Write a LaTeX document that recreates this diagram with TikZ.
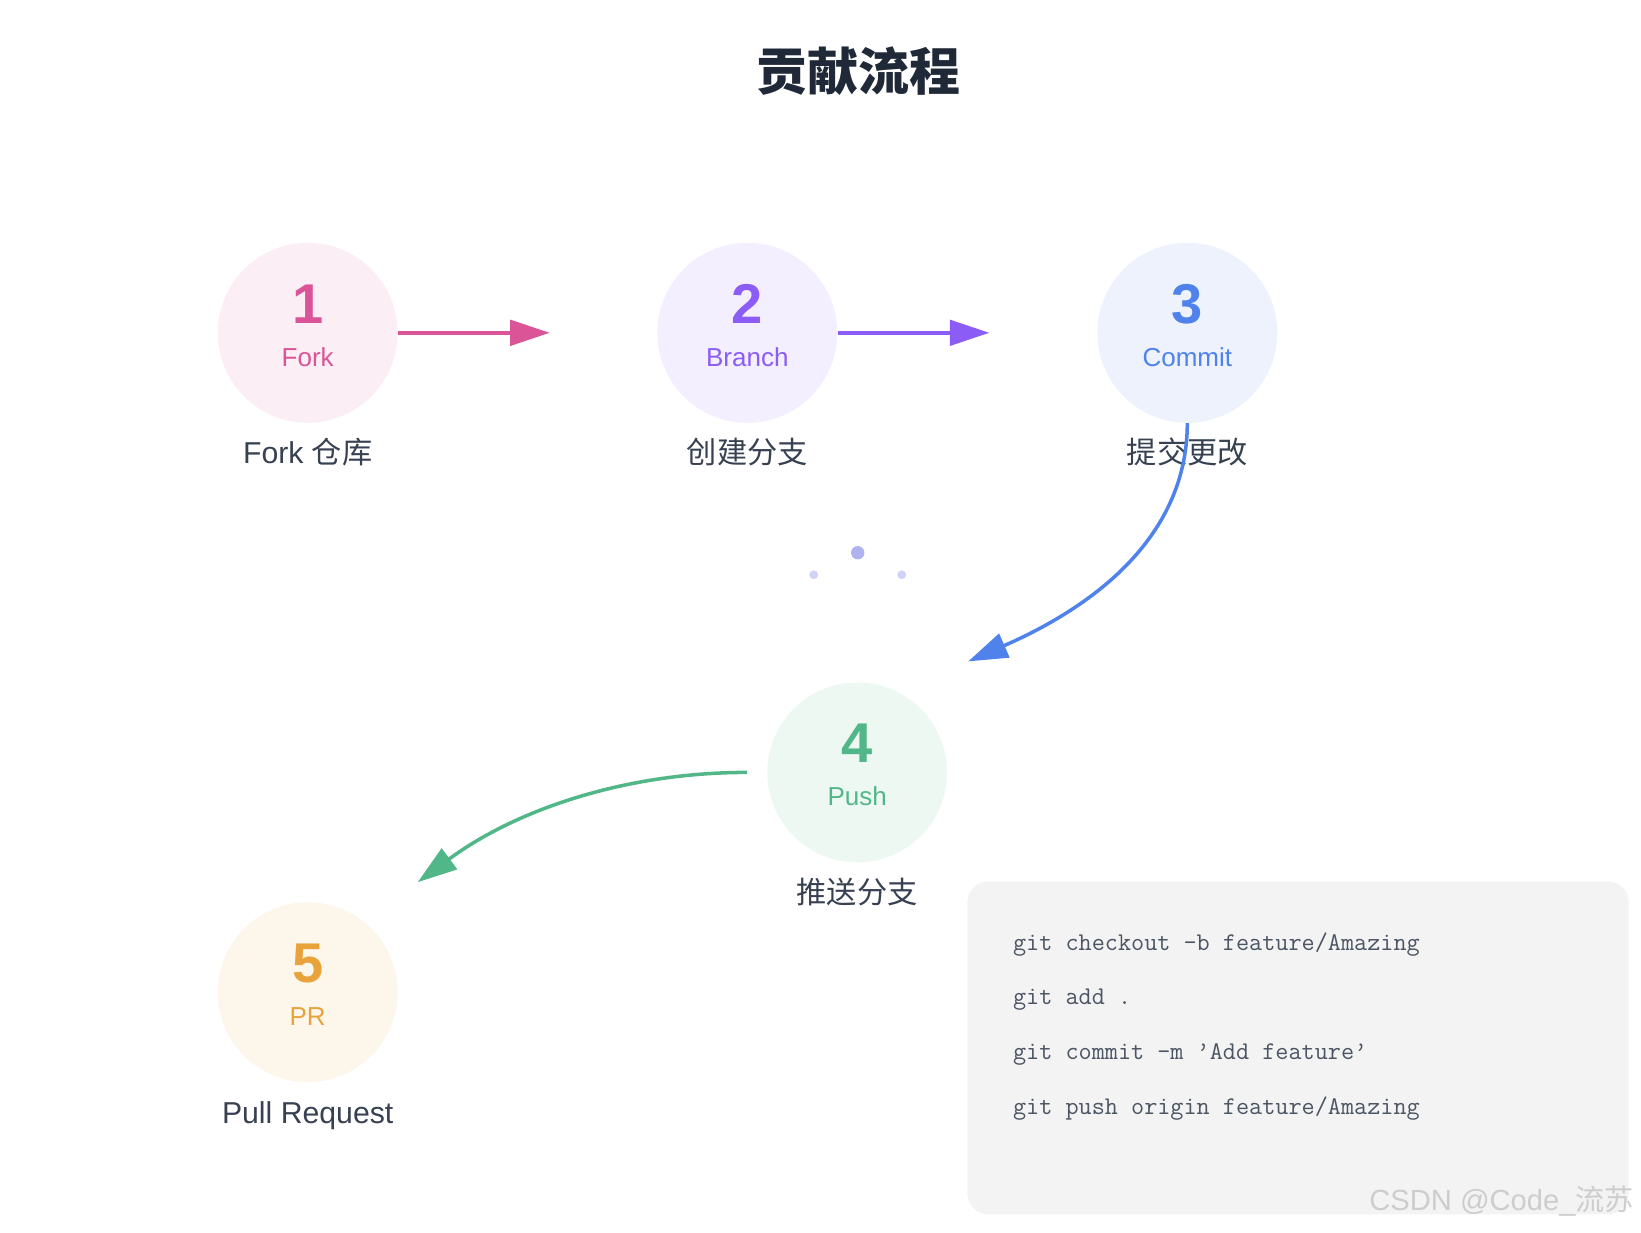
\documentclass[tikz,border=0pt]{standalone}
\usepackage{fontspec}
\setmainfont{Liberation Sans}
\newfontfamily\cjk{Noto Sans CJK SC}
\usetikzlibrary{arrows.meta, calc}

\definecolor{forkc}{RGB}{219,84,152}
\definecolor{branchc}{RGB}{139,92,246}
\definecolor{commitc}{RGB}{79,130,235}
\definecolor{pushc}{RGB}{82,183,136}
\definecolor{prc}{RGB}{233,163,59}
\definecolor{inkc}{RGB}{55,65,81}
\definecolor{titlec}{RGB}{31,41,55}
\definecolor{codebg}{RGB}{243,243,244}
\definecolor{codec}{RGB}{75,85,99}
\definecolor{dotc}{RGB}{176,178,240}
\definecolor{dotlightc}{RGB}{208,210,248}
\definecolor{wmc}{RGB}{205,205,205}

\begin{document}
\begin{tikzpicture}[
    x=0.02cm, y=-0.02cm, % one unit = one pixel of the sketch
    >={Triangle[length=22.5pt, width=14.5pt]},
    % Styles
    stage/.style={ % Coloured step circle
        circle,
        minimum size=3.6cm,
        inner sep=0pt,
        fill=#1
    },
    stagenum/.style={
        font=\fontsize{31.9pt}{36pt}\selectfont\bfseries,
        inner sep=0pt
    },
    stagetag/.style={
        font=\fontsize{14.8pt}{18pt}\selectfont,
        inner sep=0pt
    },
    stagelabel/.style={
        font=\fontsize{17.2pt}{20pt}\selectfont,
        text=inkc,
        inner sep=0pt
    },
    flow/.style={ % Connector between steps
        ->,
        line width=2pt
    },
    codebox/.style={
        rectangle,
        rounded corners=0.42cm,
        fill=codebg,
        minimum width=13.23cm,
        minimum height=6.66cm
    },
    codeline/.style={
        font=\ttfamily\fontsize{14.5pt}{17pt}\selectfont,
        text=codec,
        inner sep=0pt
    }
]
    \useasboundingbox (0,0) rectangle (1641,1232);

    % Title
    \node[font=\cjk\bfseries\fontsize{29pt}{34pt}\selectfont, text=titlec] (title) at (858.5,70.7) {贡献流程};

    % The five steps
    \foreach \i/\px/\py/\col/\short/\lab in {
        1/307.7/332.8/forkc/Fork/{Fork {\cjk 仓库}},
        2/747.3/332.8/branchc/Branch/{\cjk 创建分支},
        3/1187.3/332.8/commitc/Commit/{\cjk 提交更改},
        4/857.2/772.4/pushc/Push/{\cjk 推送分支},
        5/307.7/992.2/prc/PR/{Pull Request}}
    {
        \node[stage=\col!10] (c\i) at (\px,\py) {};
        \node[stagenum, text=\col, anchor=base] (n\i) at ($(c\i)+(0,-9.5)$) {\i};
        \node[stagetag, text=\col, anchor=base] (t\i) at ($(c\i)+(0,33.2)$) {\short};
        \node[stagelabel, anchor=base] (l\i) at ($(c\i)+(0,131)$) {\lab};
    }

    % Loose ends of the arrows
    \coordinate (e12) at ($(c1)+(242,0)$);
    \coordinate (e23) at ($(c2)+(242,0)$);
    \coordinate (e34) at ($(c4)+(111,-111)$);
    \coordinate (s45) at ($(c4.west)+(-20,0)$);
    \coordinate (e45) at ($(c5)+(110,-110)$);

    % Arrows
    \draw[flow, forkc] (c1) -- (e12);
    \draw[flow, branchc] (c2) -- (e23);
    \draw[flow, commitc] (c3.south) .. controls +(0,100) and +(146,-64) .. (e34);
    \draw[flow, pushc] (s45) .. controls +(-121,0) and +(99,-73) .. (e45);

    % Loading dots
    \fill[dotc] (857.7,552.7) circle (6.7);
    \fill[dotlightc] (813.7,574.7) circle (4.4);
    \fill[dotlightc] (901.7,574.7) circle (4.4);

    % Commands
    \node[codebox, anchor=north west] (code) at (967,881) {};
    \foreach \cmd [count=\k] in {
        git checkout -b feature/Amazing,
        git add .,
        git commit -m ’Add feature’,
        git push origin feature/Amazing}
        \node[codeline, anchor=base west] (g\k) at ($(code.north west)+(45.7,14.3+54.8*\k)$) {\cmd};

    \node[font=\fontsize{16.6pt}{19pt}\selectfont, text=wmc, inner sep=0pt, anchor=base west] (wm) at (1369,1210) {CSDN @Code\_{\cjk 流苏}};
\end{tikzpicture}
\end{document}
